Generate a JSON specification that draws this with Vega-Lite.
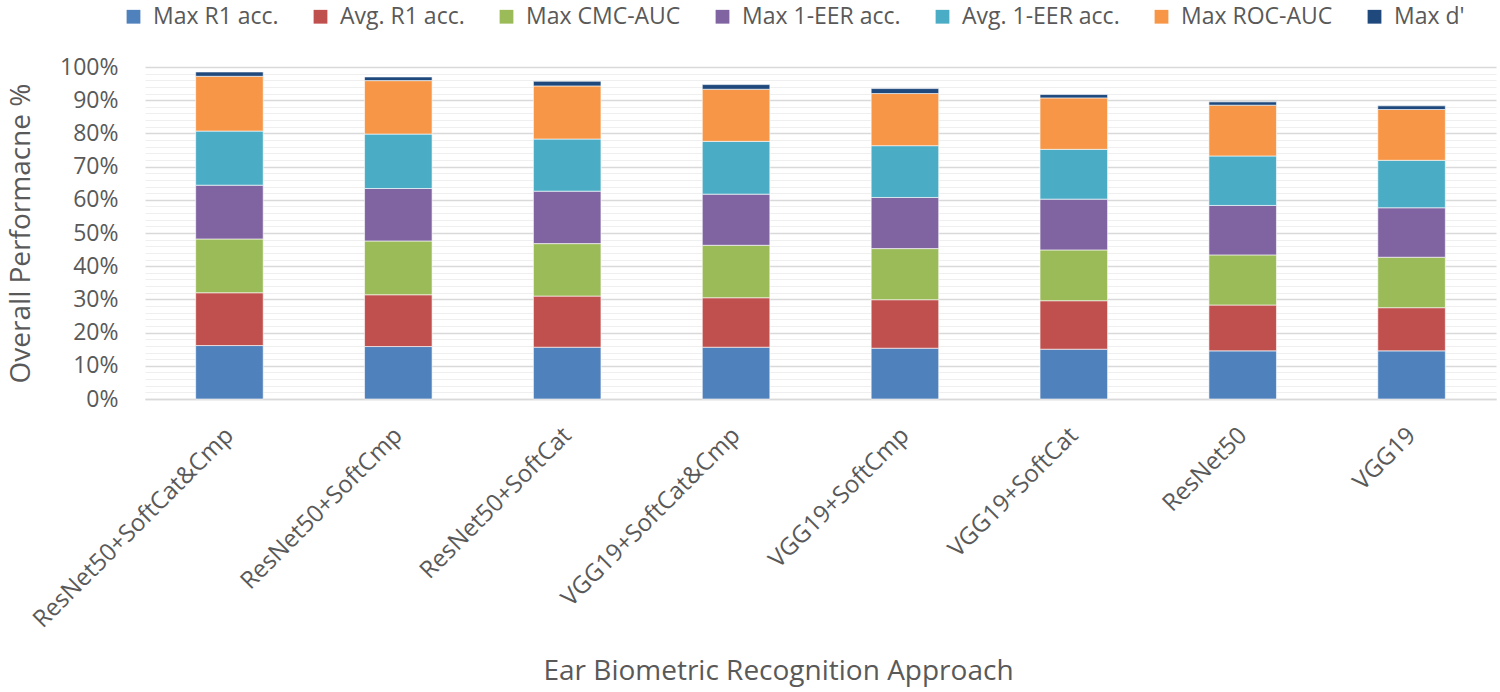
{
  "$schema": "https://vega.github.io/schema/vega-lite/v6.json",
  "autosize": "none",
  "width": 1351,
  "height": 332,
  "padding": {"left": 145, "top": 67, "right": 4, "bottom": 293},
  "background": "white",
  "config": {
    "font": "Open Sans",
    "view": {"stroke": null},
    "axis": {"labelColor": "#595959", "titleColor": "#595959", "labelFont": "Open Sans", "titleFont": "Open Sans", "titleFontWeight": "normal"}
  },
  "data": {
    "values": [
      {"approach": "ResNet50+SoftCat&Cmp", "metric": "Max R1 acc.", "value": 16.1},
      {"approach": "ResNet50+SoftCat&Cmp", "metric": "Avg. R1 acc.", "value": 15.9},
      {"approach": "ResNet50+SoftCat&Cmp", "metric": "Max CMC-AUC", "value": 16.2},
      {"approach": "ResNet50+SoftCat&Cmp", "metric": "Max 1-EER acc.", "value": 16.2},
      {"approach": "ResNet50+SoftCat&Cmp", "metric": "Avg. 1-EER acc.", "value": 16.3},
      {"approach": "ResNet50+SoftCat&Cmp", "metric": "Max ROC-AUC", "value": 16.5},
      {"approach": "ResNet50+SoftCat&Cmp", "metric": "Max d'", "value": 1.3},
      {"approach": "ResNet50+SoftCmp", "metric": "Max R1 acc.", "value": 15.8},
      {"approach": "ResNet50+SoftCmp", "metric": "Avg. R1 acc.", "value": 15.6},
      {"approach": "ResNet50+SoftCmp", "metric": "Max CMC-AUC", "value": 16.2},
      {"approach": "ResNet50+SoftCmp", "metric": "Max 1-EER acc.", "value": 15.8},
      {"approach": "ResNet50+SoftCmp", "metric": "Avg. 1-EER acc.", "value": 16.4},
      {"approach": "ResNet50+SoftCmp", "metric": "Max ROC-AUC", "value": 16.1},
      {"approach": "ResNet50+SoftCmp", "metric": "Max d'", "value": 1.1},
      {"approach": "ResNet50+SoftCat", "metric": "Max R1 acc.", "value": 15.6},
      {"approach": "ResNet50+SoftCat", "metric": "Avg. R1 acc.", "value": 15.4},
      {"approach": "ResNet50+SoftCat", "metric": "Max CMC-AUC", "value": 15.8},
      {"approach": "ResNet50+SoftCat", "metric": "Max 1-EER acc.", "value": 15.8},
      {"approach": "ResNet50+SoftCat", "metric": "Avg. 1-EER acc.", "value": 15.7},
      {"approach": "ResNet50+SoftCat", "metric": "Max ROC-AUC", "value": 16.0},
      {"approach": "ResNet50+SoftCat", "metric": "Max d'", "value": 1.4},
      {"approach": "VGG19+SoftCat&Cmp", "metric": "Max R1 acc.", "value": 15.6},
      {"approach": "VGG19+SoftCat&Cmp", "metric": "Avg. R1 acc.", "value": 14.9},
      {"approach": "VGG19+SoftCat&Cmp", "metric": "Max CMC-AUC", "value": 15.8},
      {"approach": "VGG19+SoftCat&Cmp", "metric": "Max 1-EER acc.", "value": 15.4},
      {"approach": "VGG19+SoftCat&Cmp", "metric": "Avg. 1-EER acc.", "value": 15.9},
      {"approach": "VGG19+SoftCat&Cmp", "metric": "Max ROC-AUC", "value": 15.7},
      {"approach": "VGG19+SoftCat&Cmp", "metric": "Max d'", "value": 1.4},
      {"approach": "VGG19+SoftCmp", "metric": "Max R1 acc.", "value": 15.3},
      {"approach": "VGG19+SoftCmp", "metric": "Avg. R1 acc.", "value": 14.6},
      {"approach": "VGG19+SoftCmp", "metric": "Max CMC-AUC", "value": 15.4},
      {"approach": "VGG19+SoftCmp", "metric": "Max 1-EER acc.", "value": 15.4},
      {"approach": "VGG19+SoftCmp", "metric": "Avg. 1-EER acc.", "value": 15.6},
      {"approach": "VGG19+SoftCmp", "metric": "Max ROC-AUC", "value": 15.7},
      {"approach": "VGG19+SoftCmp", "metric": "Max d'", "value": 1.5},
      {"approach": "VGG19+SoftCat", "metric": "Max R1 acc.", "value": 15.0},
      {"approach": "VGG19+SoftCat", "metric": "Avg. R1 acc.", "value": 14.6},
      {"approach": "VGG19+SoftCat", "metric": "Max CMC-AUC", "value": 15.3},
      {"approach": "VGG19+SoftCat", "metric": "Max 1-EER acc.", "value": 15.3},
      {"approach": "VGG19+SoftCat", "metric": "Avg. 1-EER acc.", "value": 15.0},
      {"approach": "VGG19+SoftCat", "metric": "Max ROC-AUC", "value": 15.5},
      {"approach": "VGG19+SoftCat", "metric": "Max d'", "value": 1.0},
      {"approach": "ResNet50", "metric": "Max R1 acc.", "value": 14.5},
      {"approach": "ResNet50", "metric": "Avg. R1 acc.", "value": 13.8},
      {"approach": "ResNet50", "metric": "Max CMC-AUC", "value": 15.1},
      {"approach": "ResNet50", "metric": "Max 1-EER acc.", "value": 14.9},
      {"approach": "ResNet50", "metric": "Avg. 1-EER acc.", "value": 14.9},
      {"approach": "ResNet50", "metric": "Max ROC-AUC", "value": 15.3},
      {"approach": "ResNet50", "metric": "Max d'", "value": 1.0},
      {"approach": "VGG19", "metric": "Max R1 acc.", "value": 14.5},
      {"approach": "VGG19", "metric": "Avg. R1 acc.", "value": 13.0},
      {"approach": "VGG19", "metric": "Max CMC-AUC", "value": 15.2},
      {"approach": "VGG19", "metric": "Max 1-EER acc.", "value": 14.9},
      {"approach": "VGG19", "metric": "Avg. 1-EER acc.", "value": 14.3},
      {"approach": "VGG19", "metric": "Max ROC-AUC", "value": 15.3},
      {"approach": "VGG19", "metric": "Max d'", "value": 1.1}
    ]
  },
  "transform": [
    {"calculate": "indexof(['Max R1 acc.', 'Avg. R1 acc.', 'Max CMC-AUC', 'Max 1-EER acc.', 'Avg. 1-EER acc.', 'Max ROC-AUC', \"Max d'\"], datum.metric)", "as": "ord"}
  ],
  "mark": {"type": "bar", "stroke": "white", "strokeWidth": 0.6},
  "encoding": {
    "x": {
      "field": "approach", "type": "nominal", "sort": null,
      "scale": {"paddingInner": 0.6, "paddingOuter": 0.3},
      "axis": {
        "title": "Ear Biometric Recognition Approach",
        "titleFontSize": 28, "titleX": 633, "titleY": 258,
        "labelAngle": -45, "labelFontSize": 24, "labelPadding": 24, "labelOffset": -8, "labelLimit": 500,
        "labelAlign": "right", "labelBaseline": "top",
        "ticks": false, "domain": true, "domainColor": "#d9d9d9", "domainWidth": 1.5, "grid": false
      }
    },
    "y": {
      "field": "value", "type": "quantitative", "stack": "zero",
      "scale": {"domain": [0, 100], "nice": false},
      "axis": {
        "title": "Overall Performacne %",
        "titleFontSize": 28, "titlePadding": 24,
        "values": [0, 2, 4, 6, 8, 10, 12, 14, 16, 18, 20, 22, 24, 26, 28, 30, 32, 34, 36, 38, 40, 42, 44, 46, 48, 50, 52, 54, 56, 58, 60, 62, 64, 66, 68, 70, 72, 74, 76, 78, 80, 82, 84, 86, 88, 90, 92, 94, 96, 98, 100],
        "labelExpr": "datum.value % 10 === 0 ? datum.value + '%' : ''",
        "labelFontSize": 23, "labelPadding": 27,
        "ticks": false, "domain": false,
        "grid": true,
        "gridColor": {"condition": {"test": "datum.value % 10 === 0", "value": "#d9d9d9"}, "value": "#efefef"},
        "gridWidth": {"condition": {"test": "datum.value % 10 === 0", "value": 1.5}, "value": 1}
      }
    },
    "color": {
      "field": "metric", "type": "nominal",
      "scale": {
        "domain": ["Max R1 acc.", "Avg. R1 acc.", "Max CMC-AUC", "Max 1-EER acc.", "Avg. 1-EER acc.", "Max ROC-AUC", "Max d'"],
        "range": ["#4F81BD", "#C0504D", "#9BBB59", "#8064A2", "#4BACC6", "#F79646", "#1F497D"]
      },
      "legend": {
        "title": null, "orient": "none", "direction": "horizontal",
        "legendX": -23, "legendY": -62,
        "symbolType": "square", "symbolSize": 190, "symbolStrokeWidth": 0,
        "labelFontSize": 23, "labelColor": "#595959", "labelFont": "Open Sans",
        "columnPadding": 30, "labelOffset": 8, "labelLimit": 400
      }
    },
    "order": {"field": "ord", "type": "quantitative", "sort": "ascending"}
  }
}
